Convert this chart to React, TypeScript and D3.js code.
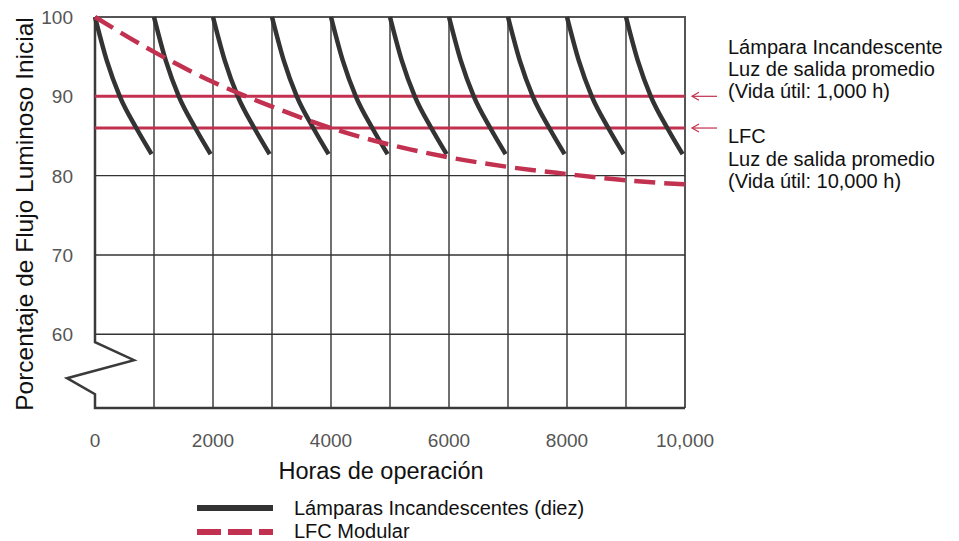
import * as d3 from "d3"

// --- data ---
const yTicks = [60, 70, 80, 90, 100]
const xTickValues = [0, 2000, 4000, 6000, 8000, 10000]
const xTickLabels = ["0", "2000", "4000", "6000", "8000", "10,000"]
const xGrid = [1000, 2000, 3000, 4000, 5000, 6000, 7000, 8000, 9000]

// ten incandescent lamps, each replaced every 1000 h
const lampStarts = [0, 1000, 2000, 3000, 4000, 5000, 6000, 7000, 8000, 9000]
const lampHours = [0, 200, 420, 700, 960]
const lampValues = [100, 94.5, 90, 86, 82.7]

// modular CFL
const lfcHours = [0, 1000, 2000, 3000, 4000, 5000, 6000, 7000, 8000, 9000, 10000]
const lfcValues = [100, 95.6, 91.8, 88.7, 86.0, 83.9, 82.3, 81.1, 80.2, 79.4, 78.9]

// average outputs
const avgLevels = [90, 86]

const RED = "#c2314f"
const DARK = "#333"
const FONT = "'Liberation Sans', Arial, Helvetica, sans-serif"

export default function App() {
  const width = 959
  const height = 541
  const left = 95
  const right = 685
  const top = 17
  const bottom = 408

  const x = d3.scaleLinear().domain([0, 10000]).range([left, right])
  const y = d3.scaleLinear().domain([50.7, 100]).range([bottom, top])

  const line = d3
    .line<[number, number]>()
    .x((d) => x(d[0]))
    .y((d) => y(d[1]))
    .curve(d3.curveMonotoneX)

  const lampPath = (start: number) =>
    line(lampHours.map((h, i) => [start + h, lampValues[i]] as [number, number])) || ""

  const lfcPath = line(lfcHours.map((h, i) => [h, lfcValues[i]] as [number, number])) || ""

  // axis break on the left
  const breakTop = y(59)
  const zig = `M${left},${top} L${left},${breakTop} L${left + 39},${breakTop + 18} L${left - 28},${breakTop + 36} L${left},${breakTop + 52} L${left},${bottom} L${right},${bottom}`

  return (
    <svg
      width={width}
      height={height}
      style={{ position: "absolute", left: 0, top: 0, background: "#fff" }}
      fontFamily={FONT}
    >
      {/* frame top / right */}
      <path d={`M${left},${top} L${right},${top} L${right},${bottom}`} fill="none" stroke="#555" strokeWidth={2} />

      {/* horizontal grid */}
      {yTicks
        .filter((t) => t < 100)
        .map((t) => (
          <line key={t} x1={left} x2={right} y1={y(t)} y2={y(t)} stroke={DARK} strokeWidth={1.4} />
        ))}

      {/* vertical grid */}
      {xGrid.map((h) => (
        <line key={h} x1={x(h)} x2={x(h)} y1={top} y2={bottom} stroke={DARK} strokeWidth={1.4} />
      ))}

      {/* left axis with break and bottom axis */}
      <path d={zig} fill="none" stroke="#3a3a3a" strokeWidth={2.5} strokeLinejoin="miter" />

      {/* average output lines */}
      {avgLevels.map((v) => (
        <line key={v} x1={left} x2={right} y1={y(v)} y2={y(v)} stroke={RED} strokeWidth={3} />
      ))}

      {/* incandescent lamps */}
      {lampStarts.map((s) => (
        <path key={s} d={lampPath(s)} fill="none" stroke={DARK} strokeWidth={4.5} />
      ))}

      {/* CFL dashed */}
      <path d={lfcPath} fill="none" stroke={RED} strokeWidth={4.5} strokeDasharray="21 9" />

      {/* y tick labels */}
      {yTicks.map((t) => (
        <text key={t} x={73} y={y(t) + 7} textAnchor="end" fontSize={19} fill="#555">
          {t}
        </text>
      ))}

      {/* x tick labels */}
      {xTickValues.map((h, i) => (
        <text key={h} x={x(h)} y={447} textAnchor="middle" fontSize={19} fill="#555">
          {xTickLabels[i]}
        </text>
      ))}

      {/* axis titles */}
      <text
        transform={`translate(33,214) rotate(-90)`}
        textAnchor="middle"
        fontSize={24.5}
        fill="#111"
      >
        Porcentaje de Flujo Luminoso Inicial
      </text>
      <text x={381} y={479} textAnchor="middle" fontSize={23.5} fill="#111">
        Horas de operación
      </text>

      {/* annotations */}
      <g fontSize={20} fill="#111">
        <text x={728} y={54}>Lámpara Incandescente</text>
        <text x={728} y={76}>Luz de salida promedio</text>
        <text x={728} y={98}>(Vida útil: 1,000 h)</text>
        <text x={728} y={143}>LFC</text>
        <text x={728} y={166}>Luz de salida promedio</text>
        <text x={728} y={188}>(Vida útil: 10,000 h)</text>
      </g>
      {avgLevels.map((v) => (
        <g key={v} stroke={RED} strokeWidth={1.2} fill="none">
          <line x1={692} x2={717} y1={y(v)} y2={y(v)} />
          <path d={`M${699},${y(v) - 4} L${692},${y(v)} L${699},${y(v) + 4}`} />
        </g>
      ))}

      {/* legend */}
      <line x1={197} x2={273} y1={508} y2={508} stroke={DARK} strokeWidth={6} />
      <text x={294} y={515} fontSize={20} fill="#111">
        Lámparas Incandescentes (diez)
      </text>
      <line x1={197} x2={273} y1={532} y2={532} stroke={RED} strokeWidth={6} strokeDasharray="24 7" />
      <text x={294} y={538} fontSize={20} fill="#111">
        LFC Modular
      </text>
    </svg>
  )
}
